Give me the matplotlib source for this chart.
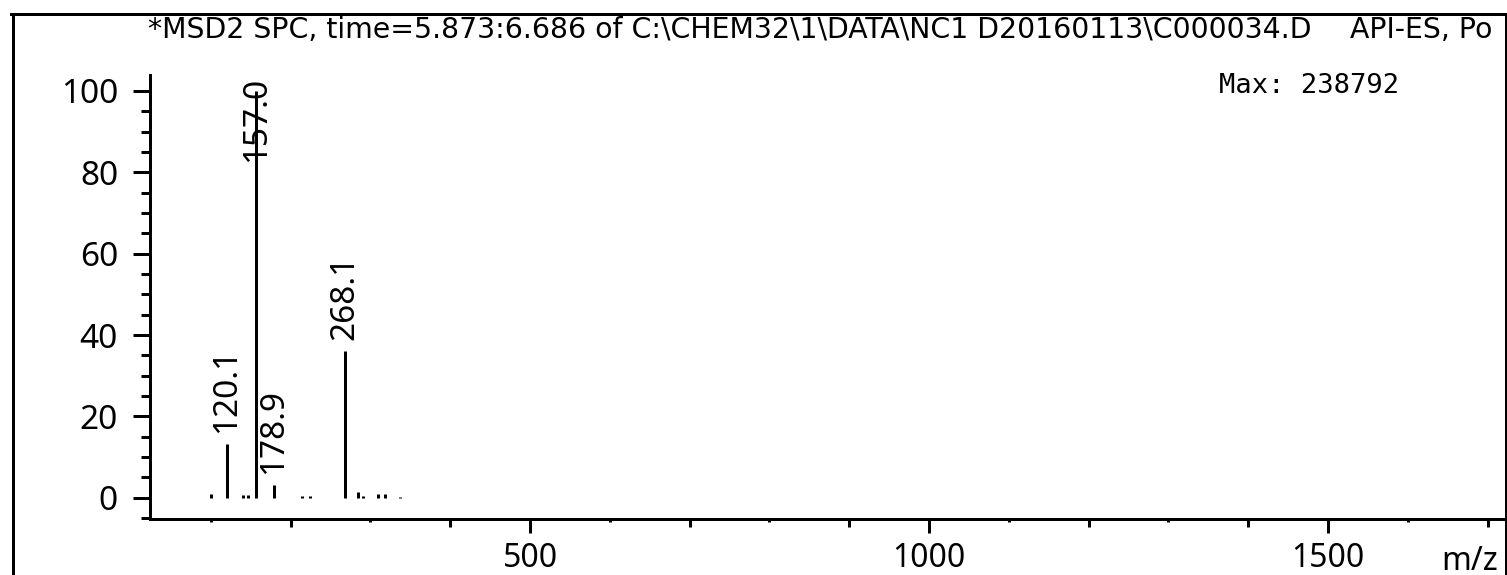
import matplotlib
matplotlib.use('Agg')
import matplotlib.pyplot as plt
from matplotlib.lines import Line2D
from matplotlib.ticker import MultipleLocator

# spectrum data (m/z, relative abundance %)
mz = [100.0, 120.1, 140.0, 147.0, 157.0, 178.9, 214.0, 224.0, 268.1, 285.0, 291.0, 310.0, 318.0, 337.0]
abundance = [1.0, 13.2, 0.7, 0.6, 100.0, 3.2, 0.4, 0.4, 36.1, 1.4, 0.5, 1.0, 1.0, 0.3]
labelled = [120.1, 157.0, 178.9, 268.1]

y_ticks = [0, 20, 40, 60, 80, 100]
x_ticks = [500, 1000, 1500]
x_minor_mid = [200, 400, 700, 900, 1200, 1400, 1700]
x_minor_short = [100, 300, 600, 800, 1100, 1300, 1600]

title_left = '*MSD2 SPC, time=5.873:6.686 of C:\\CHEM32\\1\\DATA\\NC1 D20160113\\C000034.D'
title_right = 'API-ES, Po'
max_text = 'Max: 238792'

W, H, DPI = 1507, 575, 100
px = 72 / DPI  # points per pixel

plt.rcParams['font.family'] = ['Noto Sans', 'DejaVu Sans']
plt.rcParams['font.stretch'] = 'condensed'

fig = plt.figure(figsize=(W / DPI, H / DPI), dpi=DPI)
ax = fig.add_axes([150 / W, (H - 519) / H, (1505 - 150) / W, (519 - 75) / H])

# the stick spectrum
ax.vlines(mz, 0, abundance, colors='black', lw=3 * px)
ax.set_xlim(23.8, 1721.8)
ax.set_ylim(-5.2, 103.9)

for s in ['top', 'right']:
    ax.spines[s].set_visible(False)
for s in ['left', 'bottom']:
    ax.spines[s].set_linewidth(3 * px)

# y axis ticks
ax.set_yticks(y_ticks, labels=[str(v) for v in y_ticks])
ax.yaxis.set_minor_locator(MultipleLocator(5))
ax.tick_params(axis='y', which='major', length=17 * px, width=3 * px, pad=15 * px, labelsize=24)
ax.tick_params(axis='y', which='minor', length=9 * px, width=3 * px)

# x axis ticks
ax.set_xticks(x_ticks, labels=[str(v) for v in x_ticks])
ax.set_xticks(x_minor_mid, minor=True)
ax.tick_params(axis='x', which='major', length=14 * px, width=3 * px, pad=9 * px, labelsize=23)
ax.tick_params(axis='x', which='minor', length=8 * px, width=3 * px)

sec = ax.secondary_xaxis('bottom')
sec.set_xticks(x_minor_short, labels=[])
sec.tick_params(axis='x', length=3 * px, width=3 * px)
sec.spines['bottom'].set_visible(False)

# peak labels
ytop = ax.get_ylim()[1]
for m in labelled:
    a = abundance[mz.index(m)]
    if a + 24 > ytop:
        ax.annotate(f'{m:.1f}', xy=(m, ytop), xytext=(0, -2 * px), textcoords='offset points',
                    rotation=90, ha='center', va='top', fontsize=24)
    else:
        ax.annotate(f'{m:.1f}', xy=(m, a), xytext=(0, 11 * px), textcoords='offset points',
                    rotation=90, ha='center', va='bottom', fontsize=24)

# header texts
fig.text(148 / W, 1 - 38 / H, title_left, family='DejaVu Sans', stretch='normal', fontsize=20.4, va='baseline')
fig.text(1350 / W, 1 - 38 / H, title_right, family='DejaVu Sans', stretch='normal', fontsize=20.4, va='baseline')

fig.text(1219 / W, 1 - 93 / H, max_text, family='DejaVu Sans Mono', stretch='normal', fontsize=19.5, va='baseline')
fig.text(1498 / W, 1 - 545 / H, 'm/z', ha='right', va='top', fontsize=23)

# frame around the plot
fr = dict(transform=fig.transFigure, color='black', lw=3 * px)
fig.add_artist(Line2D([12.5 / W, 12.5 / W], [0, 1 - 14 / H], **fr))
fig.add_artist(Line2D([11 / W, 1507 / W], [1 - 14 / H, 1 - 14 / H], **fr))
fig.add_artist(Line2D([1505.5 / W, 1505.5 / W], [0, 1 - 14 / H], **fr))

fig.savefig('out.png', dpi=DPI)
